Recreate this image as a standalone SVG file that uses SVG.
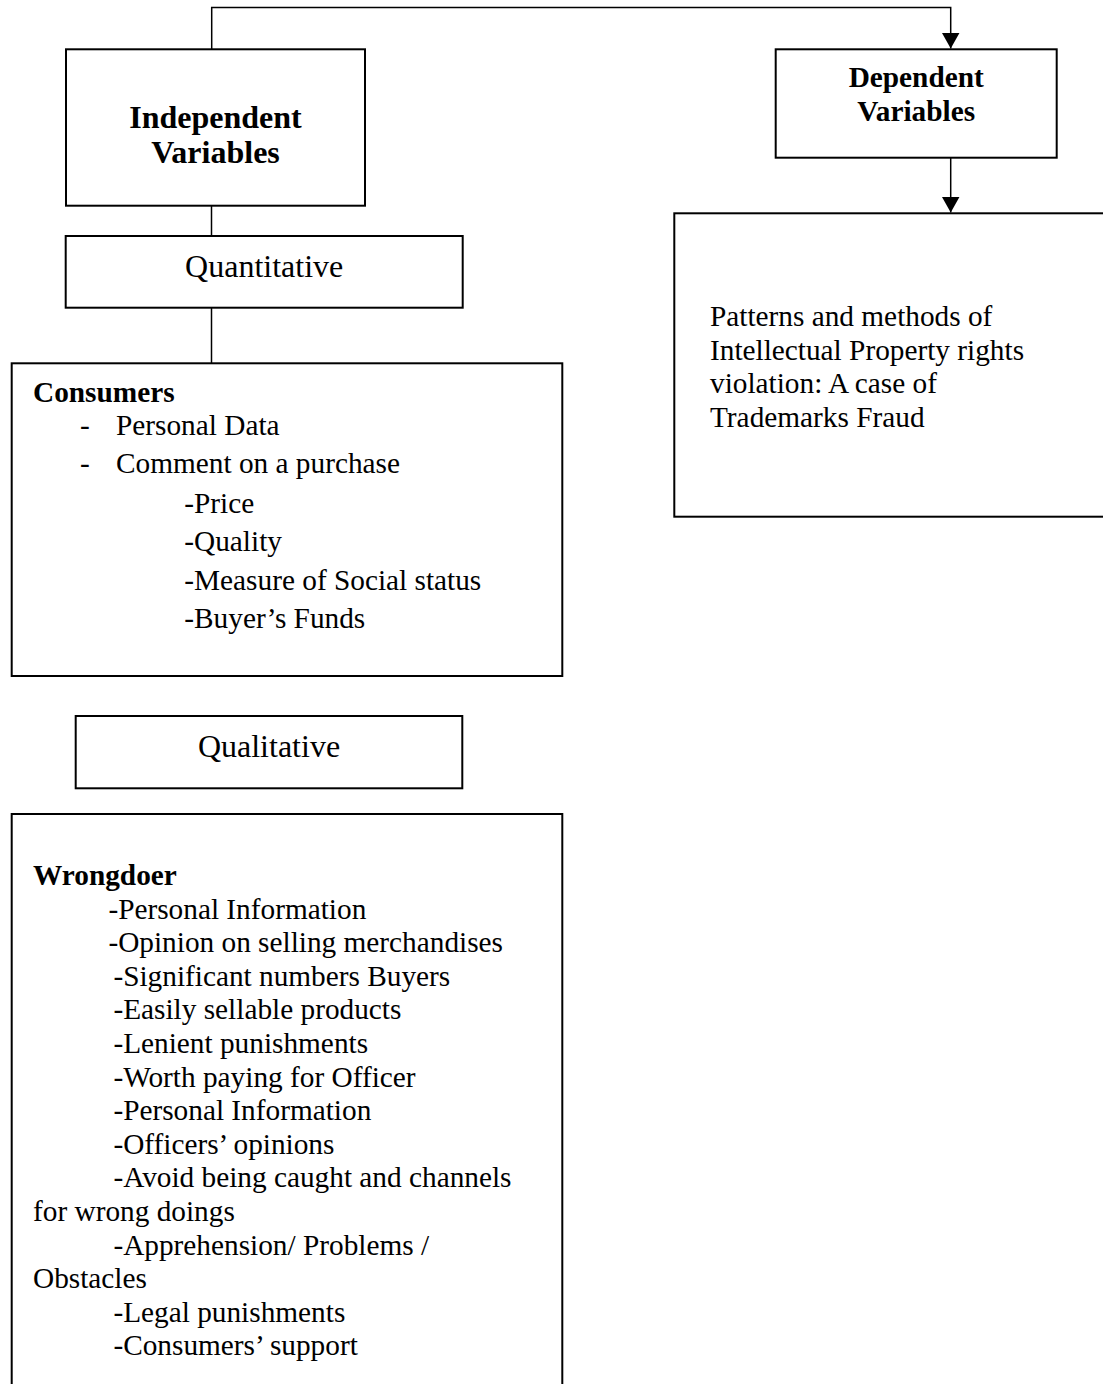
<svg xmlns="http://www.w3.org/2000/svg" width="1103" height="1384" viewBox="0 0 1103 1384">
<style>
.box{fill:#fff;stroke:#000;stroke-width:2}
.con{fill:none;stroke:#000;stroke-width:1.5}
.t{font-family:"Liberation Serif","Times New Roman",serif;font-size:29.3px;fill:#000}
.b{font-weight:bold}
.big{font-size:32px}
.c{text-anchor:middle}
</style>
<defs>
<marker id="arrow" markerUnits="userSpaceOnUse" viewBox="0 0 16 18" markerWidth="16" markerHeight="18" refX="16" refY="9" orient="auto">
<path d="M0,0 L16,9 L0,18 Z" fill="#000"/>
</marker>
</defs>
<rect width="1103" height="1384" fill="#fff"/>
<g id="connectors">
<path class="con" d="M211.7,49.3 V7.5 H950.7 V48.5" marker-end="url(#arrow)"/>
<path class="con" d="M950.7,157.7 V212.5" marker-end="url(#arrow)"/>
<path class="con" d="M211.5,205.7 V236"/>
<path class="con" d="M211.5,308 V363.3"/>
</g>
<g id="independent">
<rect class="box" x="66" y="49.3" width="299" height="156.4"/>
<text class="t b big c" x="215.5" y="127.7">Independent</text>
<text class="t b big c" x="215.5" y="163.3">Variables</text>
</g>
<g id="quantitative">
<rect class="box" x="65.7" y="236" width="397" height="71.7"/>
<text class="t big c" x="264.2" y="277.3">Quantitative</text>
</g>
<g id="consumers">
<rect class="box" x="11.7" y="363.3" width="550.6" height="312.7"/>
<text class="t b" x="33" y="401.7">Consumers</text>
<text class="t" x="80" y="435">-</text>
<text class="t" x="116" y="435">Personal Data</text>
<text class="t" x="80" y="473.3">-</text>
<text class="t" x="116" y="473.3">Comment on a purchase</text>
<text class="t" x="184.3" y="512.5">-Price</text>
<text class="t" x="184.3" y="551">-Quality</text>
<text class="t" x="184.3" y="589.7">-Measure of Social status</text>
<text class="t" x="184.3" y="628.3">-Buyer’s Funds</text>
</g>
<g id="qualitative">
<rect class="box" x="75.7" y="716" width="386.6" height="72.3"/>
<text class="t big c" x="269" y="756.7">Qualitative</text>
</g>
<g id="wrongdoer">
<rect class="box" x="11.7" y="814" width="550.6" height="600"/>
<text class="t b" x="33" y="885">Wrongdoer</text>
<text class="t" x="108.4" y="918.6">-Personal Information</text>
<text class="t" x="108.4" y="952.2">-Opinion on selling merchandises</text>
<text class="t" x="113.4" y="985.8">-Significant numbers Buyers</text>
<text class="t" x="113.4" y="1019.4">-Easily sellable products</text>
<text class="t" x="113.4" y="1053">-Lenient punishments</text>
<text class="t" x="113.4" y="1086.6">-Worth paying for Officer</text>
<text class="t" x="113.4" y="1120.2">-Personal Information</text>
<text class="t" x="113.4" y="1153.8">-Officers’ opinions</text>
<text class="t" x="113.4" y="1187.4">-Avoid being caught and channels</text>
<text class="t" x="33" y="1221">for wrong doings</text>
<text class="t" x="113.4" y="1254.6">-Apprehension/ Problems /</text>
<text class="t" x="33" y="1288.2">Obstacles</text>
<text class="t" x="113.4" y="1321.8">-Legal punishments</text>
<text class="t" x="113.4" y="1355.4">-Consumers’ support</text>
</g>
<g id="dependent">
<rect class="box" x="775.7" y="49.3" width="281" height="108.4"/>
<text class="t b c" x="916.2" y="87.3">Dependent</text>
<text class="t b c" x="916.2" y="120.7">Variables</text>
</g>
<g id="patterns">
<rect class="box" x="674.3" y="213.3" width="450" height="303.4"/>
<text class="t" x="710" y="326">Patterns and methods of</text>
<text class="t" x="710" y="359.5">Intellectual Property rights</text>
<text class="t" x="710" y="393">violation: A case of</text>
<text class="t" x="710" y="426.7">Trademarks Fraud</text>
</g>
</svg>
